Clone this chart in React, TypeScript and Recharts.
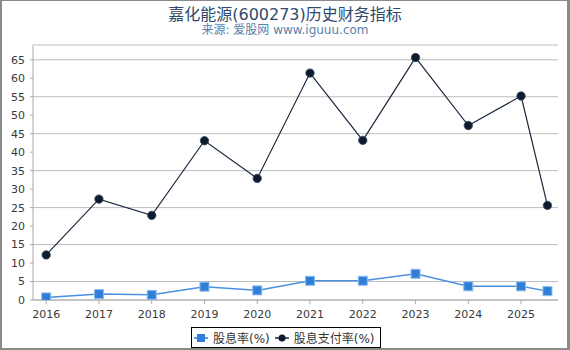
import { LineChart, Line, XAxis, YAxis, CartesianGrid, Legend } from "recharts";

const years = [2016, 2017, 2018, 2019, 2020, 2021, 2022, 2023, 2024, 2025, 2025.5];
const yieldRate = [0.7, 1.6, 1.4, 3.6, 2.6, 5.2, 5.2, 7.1, 3.7, 3.7, 2.4];
const payoutRate = [12.2, 27.3, 22.9, 43.1, 32.9, 61.4, 43.2, 65.6, 47.2, 55.2, 25.6];
const xTicks = [2016, 2017, 2018, 2019, 2020, 2021, 2022, 2023, 2024, 2025];
const yTicks = [0, 5, 10, 15, 20, 25, 30, 35, 40, 45, 50, 55, 60, 65];

const BLUE = "#2f7ed8";
const DARK = "#0d1b2e";
const FONT = "'DejaVu Sans', 'Noto Sans CJK SC', sans-serif";

const data = years.map((year, i) => ({
    year,
    yield: yieldRate[i],
    payout: payoutRate[i],
}));

const SquareDot = (props: any) => {
    const { cx, cy } = props;
    if (cx == null || cy == null) return null;
    return <rect x={cx - 4.5} y={cy - 4.5} width={9} height={9} fill={BLUE} stroke="#8dbcef" strokeWidth={1} />;
};

const CircleDot = (props: any) => {
    const { cx, cy } = props;
    if (cx == null || cy == null) return null;
    return <circle cx={cx} cy={cy} r={4.2} fill={DARK} stroke="#3b4a60" strokeWidth={0.8} />;
};

const LegendBox = () => (
    <div
        style={{
            border: "1px solid #000",
            background: "#fff",
            height: 19,
            display: "flex",
            alignItems: "center",
            padding: "0 5px 0 2px",
            fontFamily: FONT,
            fontSize: 12,
            color: "#333",
            whiteSpace: "nowrap",
        }}
    >
        <svg width={14} height={10} style={{ marginRight: 5 }}>
            <line x1={0} y1={5} x2={14} y2={5} stroke="#5a9be6" strokeWidth={2} />
            <rect x={3} y={1} width={8} height={8} fill={BLUE} />
        </svg>
        <span style={{ marginRight: 5 }}>股息率(%)</span>
        <svg width={14} height={10} style={{ marginRight: 5 }}>
            <line x1={0} y1={5} x2={14} y2={5} stroke="#1c2b40" strokeWidth={1.5} />
            <circle cx={7} cy={5} r={3.5} fill={DARK} />
        </svg>
        <span>股息支付率(%)</span>
    </div>
);

export default function App() {
    return (
        <div style={{ position: "absolute", left: 0, top: 0, width: 570, height: 350, background: "#fff" }}>
            <div
                style={{
                    position: "absolute",
                    top: 1,
                    width: 570,
                    textAlign: "center",
                    fontFamily: FONT,
                    fontSize: 16,
                    color: "#2e4a6e",
                }}
            >
                嘉化能源(600273)历史财务指标
            </div>
            <div
                style={{
                    position: "absolute",
                    top: 20,
                    width: 570,
                    textAlign: "center",
                    fontFamily: FONT,
                    fontSize: 12,
                    color: "#5b7fa8",
                }}
            >
                来源: 爱股网 www.iguuu.com
            </div>

            <div style={{ position: "absolute", left: 0, top: 0 }}>
                <LineChart width={570} height={350} data={data} margin={{ top: 45, right: 12, bottom: 30, left: 0 }}>
                    <CartesianGrid horizontal vertical={false} stroke="#bdbdbd" strokeWidth={1} />
                    <XAxis
                        dataKey="year"
                        type="number"
                        domain={[2015.75, 2025.7]}
                        ticks={xTicks}
                        allowDataOverflow
                        height={20}
                        stroke="#aaa"
                        tickSize={4}
                        tickMargin={6}
                        tick={{ fill: "#3a3a3a", fontSize: 11, fontFamily: FONT }}
                    />
                    <YAxis
                        type="number"
                        domain={[0, 69]}
                        ticks={yTicks}
                        allowDataOverflow
                        width={33}
                        stroke="#aaa"
                        tickSize={3}
                        tickMargin={5}
                        tick={{ fill: "#3a3a3a", fontSize: 11, fontFamily: FONT }}
                    />
                    <Legend
                        layout="horizontal"
                        verticalAlign="middle"
                        align="center"
                        content={<LegendBox />}
                        wrapperStyle={{ top: 327, left: 191, width: "auto", height: "auto" }}
                    />
                    <Line
                        dataKey="yield"
                        name="股息率(%)"
                        stroke="#4a8fe0"
                        strokeWidth={1.5}
                        dot={<SquareDot />}
                        isAnimationActive={false}
                    />
                    <Line
                        dataKey="payout"
                        name="股息支付率(%)"
                        stroke="#1c2b40"
                        strokeWidth={1.2}
                        dot={<CircleDot />}
                        isAnimationActive={false}
                    />
                </LineChart>
            </div>

            <div
                style={{
                    position: "absolute",
                    left: 0,
                    top: 0,
                    width: 570,
                    height: 350,
                    boxSizing: "border-box",
                    borderLeft: "2px solid #8a8a8a",
                    borderRight: "3px solid #8a8a8a",
                    borderBottom: "2px solid #8a8a8a",
                    borderTop: "1px solid #8a8a8a",
                    pointerEvents: "none",
                }}
            />
        </div>
    );
}
